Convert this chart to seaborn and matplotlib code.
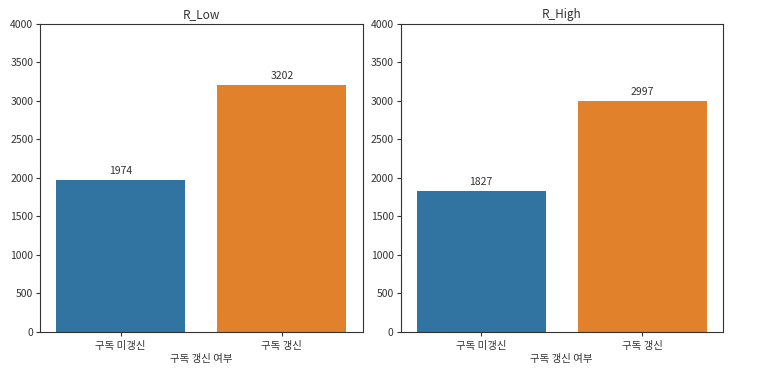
import pandas as pd
import matplotlib
matplotlib.use("Agg")
import matplotlib.pyplot as plt
import seaborn as sns

categories = ["구독 미갱신", "구독 갱신"]
low_counts = [1974, 3202]
high_counts = [1827, 2997]
titles = ["R_Low", "R_High"]

plt.rcParams['font.family'] = ['Noto Sans CJK KR', 'DejaVu Sans']
plt.rcParams['font.size'] = 7.5
plt.rcParams['text.color'] = '#333333'
plt.rcParams['xtick.color'] = '#333333'
plt.rcParams['ytick.color'] = '#333333'
plt.rcParams['axes.labelcolor'] = '#333333'

fig, axes = plt.subplots(1, 2, figsize=(7.57, 3.75), dpi=100)
fig.subplots_adjust(left=0.053, right=0.955, top=0.936, bottom=0.115, wspace=0.118)

for ax, counts, title in zip(axes, [low_counts, high_counts], titles):
    df = pd.DataFrame({"구독 갱신 여부": categories, "count": counts})
    sns.barplot(data=df, x="구독 갱신 여부", y="count", hue="구독 갱신 여부",
                palette=["#1f77b4", "#ff7f0e"], saturation=0.75, legend=False, ax=ax)
    for i, v in enumerate(counts):
        ax.annotate(str(v), (i, v), xytext=(0, 3), textcoords="offset points",
                    ha="center", va="bottom", fontsize=7.5)
    ax.set_ylim(0, 4000)
    ax.set_title(title, fontsize=8.5, pad=4)
    ax.set_ylabel("")
    ax.set_xlabel("구독 갱신 여부", labelpad=2)
    ax.tick_params(axis="x", length=3, pad=3.5)
    ax.tick_params(axis="y", length=3, pad=2)
    for s in ax.spines.values():
        s.set_color('#333333')

fig.savefig("out.png", dpi=100)
